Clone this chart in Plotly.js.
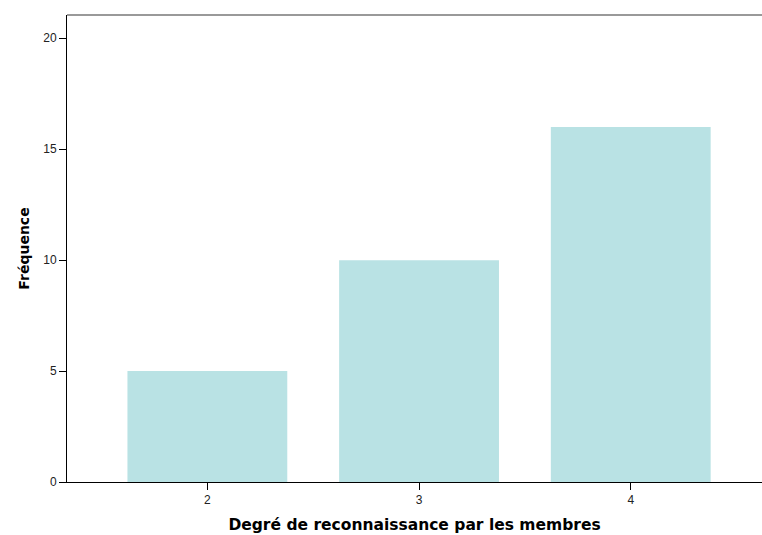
<!DOCTYPE html>
<html>
<head>
<meta charset="utf-8">
<script src="https://cdn.plot.ly/plotly-3.0.1.min.js"></script>
<style>html,body{margin:0;padding:0;background:#fff;}#chart{width:762px;height:535px;}</style>
</head>
<body>
<div id="chart"></div>
<script>
const categories = [2, 3, 4];
const frequencies = [5, 10, 16];
const yTickValues = [0, 5, 10, 15, 20];
const xTitle = "Degré de reconnaissance par les membres";
const yTitle = "Fréquence";

const trace = {
  type: "bar",
  x: categories,
  y: frequencies,
  width: 0.755,
  marker: {color: "#b9e2e4", line: {width: 0}},
  hoverinfo: "x+y"
};

const layout = {
  width: 762,
  height: 535,
  margin: {l: 67, r: 0, t: 15, b: 53},
  paper_bgcolor: "#ffffff",
  plot_bgcolor: "#ffffff",
  showlegend: false,
  xaxis: {
    range: [1.337, 4.62],
    tickvals: categories,
    ticktext: categories.map(String),
    ticks: "outside",
    ticklen: 7,
    tickcolor: "#000",
    showgrid: false,
    zeroline: false,
    showline: true,
    linecolor: "#000",
    linewidth: 1,
    tickfont: {family: "Liberation Sans, Arial, sans-serif", size: 12, color: "#222"},
    title: {text: xTitle, standoff: 12, font: {family: "DejaVu Sans, sans-serif", size: 15.5, color: "#000", weight: "bold"}}
  },
  yaxis: {
    range: [0, 21.05],
    tickvals: yTickValues,
    ticks: "outside",
    ticklen: 7,
    tickcolor: "#000",
    showgrid: false,
    zeroline: false,
    showline: true,
    linecolor: "#000",
    linewidth: 1,
    tickfont: {family: "Liberation Sans, Arial, sans-serif", size: 12, color: "#222"},
    title: {text: yTitle, standoff: 10, font: {family: "DejaVu Sans, sans-serif", size: 14, color: "#000", weight: "bold"}}
  },
  shapes: [{
    type: "line", xref: "paper", yref: "paper",
    x0: 0, x1: 1, y0: 1, y1: 1,
    line: {color: "#999999", width: 2}
  }]
};

Plotly.newPlot("chart", [trace], layout, {displayModeBar: false, staticPlot: true});
</script>
</body>
</html>
